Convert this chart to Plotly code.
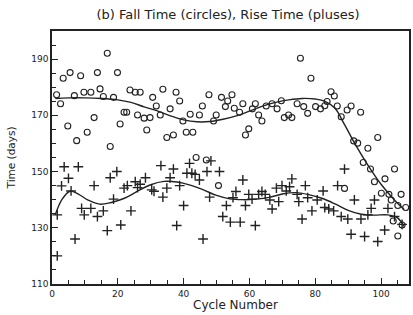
import plotly.graph_objects as go

# Fall time (circles)
fall_x = [1.4, 2.6, 3.4, 4.8, 5.5, 6.8, 7.5, 8.7, 9.7, 10.7, 11.8, 12.8, 13.8, 14.6, 15.6, 16.8, 17.7, 18.7, 19.9,
          20.7, 21.9, 22.7, 23.7, 25.3, 26.0, 26.8, 28.0, 28.8, 29.8, 30.6, 31.7, 32.9, 33.7, 34.9, 35.9, 36.9,
          37.7, 38.8, 39.8, 40.8, 42.0, 42.8, 43.8, 44.8, 45.7, 46.9, 47.7, 49.1, 49.9, 50.6, 51.5, 52.7, 53.4,
          54.7, 55.4, 57.0, 58.0, 58.8, 59.8, 60.9, 61.8, 62.8, 63.8, 65.1, 66.9, 68.4, 69.7, 70.6, 71.9, 72.9,
          74.5, 75.5, 76.5, 77.7, 78.7, 80.1, 81.6, 82.9, 83.6, 84.8, 85.8, 86.7, 87.9, 88.9, 89.7, 90.9, 91.7,
          92.9, 93.8, 94.6, 96.0, 96.8, 98.0, 99.0, 100.1, 101.2, 102.4, 103.1, 103.7, 104.1, 105.1, 105.1,
          106.1, 106.4, 107.5]
fall_y = [177.3, 174.1, 183.2, 166.2, 185.2, 177.0, 161.0, 184.1, 178.2, 164.0, 178.2, 169.2, 185.2, 179.4, 176.7,
          192.1, 158.9, 176.4, 185.2, 166.9, 171.1, 171.1, 179.0, 178.2, 170.1, 178.2, 169.0, 164.8, 169.2, 176.4,
          173.3, 170.1, 179.3, 162.1, 172.3, 163.0, 178.2, 175.1, 168.0, 164.0, 170.4, 164.0, 155.0, 170.1, 173.3,
          154.1, 177.3, 168.0, 170.1, 145.0, 176.4, 173.1, 175.1, 177.3, 172.5, 171.1, 174.1, 163.0, 165.2, 172.3,
          174.1, 170.1, 168.0, 173.3, 174.1, 172.3, 175.2, 169.2, 170.1, 169.2, 174.1, 190.3, 173.1, 170.7, 183.2,
          173.1, 172.3, 173.4, 174.9, 178.4, 176.9, 173.3, 169.5, 144.0, 171.9, 173.3, 160.9, 160.1, 171.1, 153.2,
          158.3, 150.9, 146.4, 162.1, 142.3, 147.4, 141.9, 139.9, 132.4, 150.9, 137.9, 127.1, 141.9, 131.0, 137.2]

# Rise time (pluses)
rise_x = [1.6, 1.6, 2.9, 3.7, 5.0, 5.8, 7.0, 8.0, 9.0, 9.8, 11.8, 12.8, 13.8, 15.6, 16.8, 17.7, 18.7, 19.7, 20.9,
          21.9, 22.9, 24.0, 25.3, 26.0, 26.8, 28.4, 30.3, 31.0, 33.1, 33.7, 34.9, 35.9, 36.9, 37.9, 38.8, 40.0,
          41.0, 41.8, 42.5, 43.5, 44.8, 45.9, 47.1, 47.9, 48.3, 50.9, 51.9, 53.0, 54.2, 55.0, 55.9, 57.2, 58.0,
          58.8, 59.8, 60.8, 61.8, 62.8, 63.8, 64.8, 66.2, 66.9, 68.2, 68.9, 69.9, 71.2, 72.2, 72.9, 74.5, 75.0,
          76.0, 77.0, 77.7, 79.0, 80.6, 82.4, 82.9, 84.1, 85.6, 86.8, 87.9, 88.9, 89.9, 90.9, 91.9, 93.9, 95.0,
          96.0, 97.0, 98.0, 99.0, 101.1, 102.1, 104.1, 106.4]
rise_y = [134.6, 120.0, 144.9, 151.7, 147.6, 143.1, 126.0, 151.7, 136.9, 134.6, 136.9, 145.0, 134.0, 136.0, 129.0,
          147.8, 140.2, 150.0, 131.0, 144.1, 145.0, 136.0, 146.4, 144.3, 145.5, 147.8, 143.5, 143.0, 152.1, 140.9,
          144.1, 147.8, 150.9, 130.8, 145.0, 137.9, 149.4, 152.9, 149.4, 149.0, 147.0, 126.0, 150.0, 140.9, 153.8,
          150.0, 134.0, 137.9, 132.0, 140.7, 142.9, 132.0, 147.0, 137.9, 141.9, 140.2, 130.8, 141.9, 142.9, 141.9,
          139.9, 136.7, 144.1, 139.3, 145.0, 143.1, 144.6, 147.4, 141.9, 139.3, 133.1, 145.0, 140.7, 136.0, 139.9,
          143.1, 137.2, 136.7, 136.0, 145.0, 134.0, 150.9, 133.1, 127.7, 139.9, 133.1, 126.9, 134.6, 136.9, 139.9,
          125.1, 129.2, 136.9, 134.0, 131.2]

# Smooth fit curves
fall_fit_x = [1, 5, 10, 15, 20, 24, 28, 32, 36, 40, 44, 48, 52, 56, 60, 64, 68, 72, 76, 80, 83, 86, 89, 92, 96,
              100, 104, 107]
fall_fit_y = [176.0, 176.2, 176.2, 176.0, 175.5, 174.6, 173.0, 171.6, 169.8, 168.4, 167.7, 167.8, 168.6, 169.8,
              171.5, 173.3, 174.6, 175.5, 176.0, 175.8, 175.0, 172.5, 166.5, 160.0, 152.3, 145.5, 140.0, 136.5]
rise_fit_x = [1, 3, 5.5, 8, 11, 14.5, 18, 22, 26, 30, 34, 38, 42, 46, 50, 54, 58, 62, 66, 70, 74, 78, 82, 86, 90,
              94, 98, 102, 105, 107]
rise_fit_y = [134.6, 140.0, 143.0, 142.0, 139.8, 138.4, 139.0, 140.5, 143.0, 145.3, 146.5, 146.3, 145.2, 143.5,
              141.5, 140.3, 140.0, 140.2, 140.8, 142.0, 142.5, 141.8, 140.5, 138.5, 136.2, 134.8, 134.5, 134.6,
              133.5, 130.5]

x_ticks = [0, 20, 40, 60, 80, 100]
y_ticks = [110, 130, 150, 170, 190]

ink = "#222222"
font_family = "DejaVu Sans, Arial, sans-serif"

fig = go.Figure()
fig.add_trace(go.Scatter(x=fall_x, y=fall_y, mode="markers",
                         marker=dict(symbol="circle-open", size=6, color=ink, line=dict(width=1.1, color=ink)),
                         showlegend=False))
fig.add_trace(go.Scatter(x=rise_x, y=rise_y, mode="markers",
                         marker=dict(symbol="cross-thin-open", size=7, color=ink, line=dict(width=1.4, color=ink)),
                         showlegend=False))
fig.add_trace(go.Scatter(x=fall_fit_x, y=fall_fit_y, mode="lines", line=dict(color=ink, width=1.4, shape="spline"),
                         showlegend=False))
fig.add_trace(go.Scatter(x=rise_fit_x, y=rise_fit_y, mode="lines", line=dict(color=ink, width=1.4, shape="spline"),
                         showlegend=False))

fig.update_layout(
    width=413, height=315,
    margin=dict(l=52, r=4, t=31, b=31, autoexpand=False),
    paper_bgcolor="white", plot_bgcolor="white",
    font=dict(family=font_family, color=ink),
    hovermode=False,
    title=dict(text="(b) Fall Time (circles), Rise Time (pluses)", x=0.552, xanchor="center",
               xref="container", y=0.953, yref="container", yanchor="middle", font=dict(size=13, color=ink)),
    annotations=[
        dict(text="Cycle Number", xref="paper", yref="paper", x=0.513, y=-0.083, xanchor="center",
             yanchor="middle", showarrow=False, font=dict(size=12, color=ink)),
        dict(text="Time (days)", xref="paper", yref="paper", x=-0.115, y=0.50, xanchor="center",
             yanchor="middle", showarrow=False, textangle=-90, font=dict(size=10.5, color=ink)),
    ],
)
fig.update_xaxes(
    range=[0, 108.5], tickvals=x_ticks, ticktext=[str(v) for v in x_ticks],
    showline=True, linecolor=ink, linewidth=1.5, mirror=True, automargin=False,
    ticks="inside", ticklen=6, tickwidth=1.2, tickcolor=ink,
    minor=dict(dtick=5, tick0=0, ticks="inside", ticklen=4, tickwidth=1, tickcolor=ink),
    showgrid=False, zeroline=False, tickfont=dict(size=9),
)
fig.update_yaxes(
    range=[110, 200], tickvals=y_ticks, ticktext=[str(v) for v in y_ticks],
    showline=True, linecolor=ink, linewidth=1.5, mirror=True, automargin=False,
    ticks="inside", ticklen=6, tickwidth=1.2, tickcolor=ink,
    minor=dict(dtick=5, tick0=110, ticks="inside", ticklen=4, tickwidth=1, tickcolor=ink),
    showgrid=False, zeroline=False, tickfont=dict(size=9),
)

fig.write_html("out.html", config={"displayModeBar": False},
               post_script="document.body.style.margin='0px';document.body.style.overflow='hidden';")
